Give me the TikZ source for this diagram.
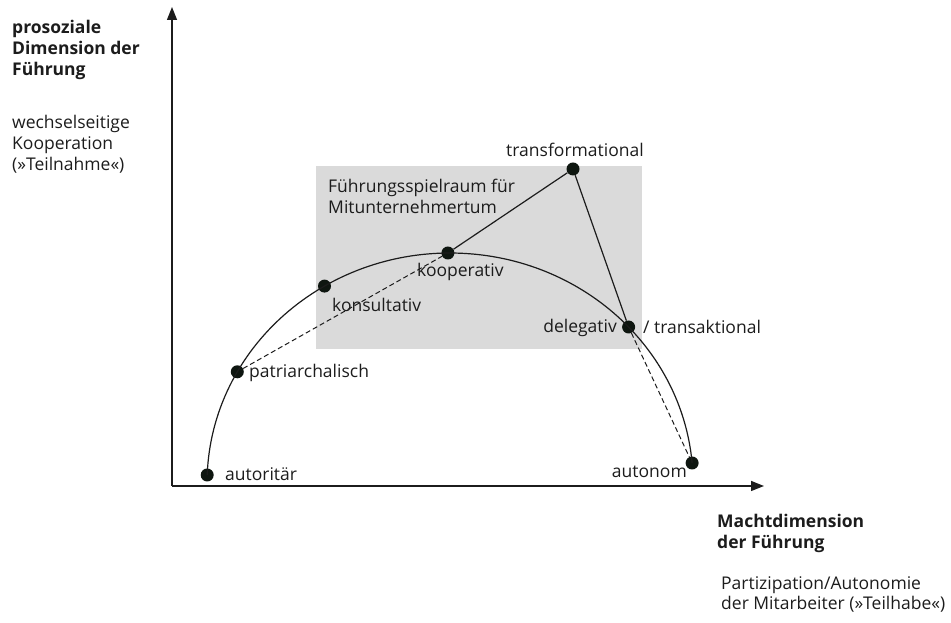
\documentclass[tikz,border=0pt]{standalone}
\usepackage{fontspec}
\setmainfont{Open Sans}
\usetikzlibrary{arrows.meta}
\definecolor{txt}{HTML}{1C1C1C}
\definecolor{dotcol}{HTML}{0E1610}
\definecolor{field}{HTML}{DADADA}
\newcommand\dfont{\fontsize{17.5}{20.8}\selectfont}
\begin{document}
\begin{tikzpicture}[x=1pt,y=1pt,
  dot/.style={circle,fill=dotcol,inner sep=0pt,minimum size=13pt},
  lbl/.style={inner sep=0pt,font=\dfont,text=txt},
  blk/.style={inner sep=0pt,font=\dfont,text=txt,align=left,anchor=north west},
  axis/.style={line width=1.4pt,draw=txt,-{Triangle[length=13pt,width=10pt]}},
  conn/.style={line width=1.2pt,draw=txt},
  dconn/.style={line width=1pt,draw=txt,dash pattern=on 5pt off 3pt}]
\useasboundingbox (0,0) rectangle (951,623);
% field
\fill[field] (316,274) rectangle (642,457);
% axes
\coordinate (O) at (172,137);
\coordinate (ytip) at (172,616);
\coordinate (xtip) at (764,137);
\draw[axis] (O) -- (ytip);
\draw[axis] (O) -- (xtip);
% dots
\node[dot] (autor) at (207.2,148.0) {};
\node[dot] (patri) at (237.3,251.2) {};
\node[dot] (konsu) at (324.5,336.9) {};
\node[dot] (koop)  at (447.9,370.0) {};
\node[dot] (trans) at (573,454) {};
\node[dot] (deleg) at (628.6,296.0) {};
\node[dot] (auton) at (692.1,160.0) {};
% curve
\draw[conn] (autor.center) arc[start angle=178,end angle=5,x radius=243pt,y radius=230pt];
% connectors
\draw[conn] (koop) -- (trans);
\draw[conn] (trans) -- (deleg);
\draw[dconn] (patri) -- (koop);
\draw[dconn] (deleg) -- (auton);
% labels
\node[lbl,anchor=west] (lautor) at (225,149) {autoritär};
\node[lbl,anchor=west] (lpatri) at (249,250) {patriarchalisch};
\node[lbl,anchor=west] (lkonsu) at (332,318) {konsultativ};
\node[lbl,anchor=west] (lkoop)  at (417,351) {kooperativ};
\node[lbl] (ltrans) at (575,473) {transformational};
\node[lbl,anchor=east] (ldeleg) at (617,295) {delegativ};
\node[lbl,anchor=west] (ltransak) at (643,296) {/ transaktional};
\node[lbl,anchor=east] (lauton) at (687,151) {autonom};
\node[lbl,anchor=west,align=left] (lfield) at (328,426.5) {Führungsspielraum für\\Mitunternehmertum};
% axis titles
\node[blk,font=\dfont\bfseries] (ytitle) at (12,603) {prosoziale\\Dimension der\\Führung};
\node[blk] (ysub) at (12,508) {wechselseitige\\Kooperation\\(»Teilnahme«)};
\node[blk,font=\dfont\bfseries] (xtitle) at (717,109) {Machtdimension\\der Führung};
\node[blk] (xsub) at (721,47) {Partizipation/Autonomie\\der Mitarbeiter (»Teilhabe«)};
\end{tikzpicture}
\end{document}
